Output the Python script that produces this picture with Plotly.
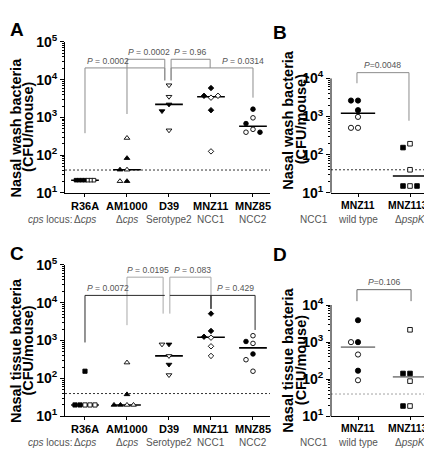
import numpy as np
import plotly.graph_objects as go

W, H = 432, 449
FONT = "Liberation Sans, Arial, sans-serif"

# ---------------- data ----------------
strains_AC = ["R36A", "AM1000", "D39", "MNZ11", "MNZ85"]
locus_AC = ["Δ<i>cps</i>", "Δ<i>cps</i>", "Serotype2", "NCC1", "NCC2"]
strains_BD = ["MNZ11", "MNZ1131"]
geno_BD = ["wild type", "Δ<i>pspK</i>"]
detection_limit = 40

# Panel A: nasal wash bacteria (CFU/mouse); fill 1 = closed symbol, 0 = open symbol
A_R36A = [21.5, 21.5, 21.5, 21.5, 21.5, 21.5, 21.5]
A_R36A_fill = [1, 1, 0, 1, 0, 1, 0]
A_AM1000 = [283, 82.6, 40.8, 40.8, 20.2, 20.2]
A_AM1000_fill = [0, 1, 0, 1, 1, 0]
A_D39 = [7130, 3530, 2210, 1470, 453]
A_D39_fill = [0, 0, 1, 1, 0]
A_MNZ11 = [5990, 3330, 3740, 3740, 1550, 125]
A_MNZ11_fill = [1, 0, 1, 0, 1, 0]
A_MNZ85 = [1650, 971, 683, 481, 403, 403]
A_MNZ85_fill = [1, 0, 1, 0, 0, 1]

# Panel B: nasal wash bacteria
B_MNZ11 = [2630, 2630, 1470, 979, 505, 505]
B_MNZ11_fill = [1, 1, 1, 0, 0, 0]
B_MNZ1131 = [193, 153, 40, 15, 15, 15]
B_MNZ1131_fill = [0, 1, 0, 0, 1, 1]

# Panel C: nasal tissue bacteria
C_R36A = [155, 20, 20, 20, 20, 20]
C_R36A_fill = [1, 0, 1, 0, 1, 0]
C_AM1000 = [262, 38, 20, 20, 20, 20]
C_AM1000_fill = [0, 1, 0, 1, 0, 1]
C_D39 = [792, 792, 393, 233, 123]
C_D39_fill = [1, 0, 0, 1, 0]
C_MNZ11 = [5120, 1190, 1790, 1260, 705, 393]
C_MNZ11_fill = [1, 0, 1, 1, 0, 0]
C_MNZ85 = [1340, 944, 840, 442, 312, 155]
C_MNZ85_fill = [0, 1, 0, 1, 0, 0]

# Panel D: nasal tissue bacteria
D_MNZ11 = [3890, 1000, 1000, 464, 170, 94]
D_MNZ11_fill = [1, 1, 0, 0, 1, 0]
D_MNZ1131 = [2150, 143, 143, 89, 19, 19]
D_MNZ1131_fill = [0, 1, 1, 0, 0, 1]

# significance brackets: (x_left, x_right, top, left_leg_end, right_leg_end)
A_brackets = [(0, 1.9, 20500, 380, 9570), (1, 1.9, 34800, 1228, 9570),
              (2.05, 2.98, 34800, 9570, 20500), (2.05, 4.0, 20500, 9570, 3330)]
A_pvals = ["0.0002", "0.0002", "0.96", "0.0314"]
A_plabel_x = [0, 0.98, 2.08, 3.21]
A_plabel_y = [20500, 34800, 34800, 20500]

C_brackets_light = [(1, 1.86, 46900, 2540, 5120), (2.02, 3.0, 46900, 5120, 15500)]
C_brackets_dark = [(0, 1.9, 15500, 889, 15500), (2.02, 4.05, 15500, 15500, 1900),
                   (3.0, 3.0, 15500, 6840, 6840)]
C_pvals = ["0.0072", "0.0195", "0.083", "0.429"]
C_plabel_x = [0, 0.95, 2.08, 3.1]
C_plabel_y = [15500, 46900, 46900, 15500]

B_bracket = (-0.02, 0.98, 14200, 7480, 776)
B_pval = "0.0048"
D_bracket = (-0.02, 1.02, 25900, 12700, 12700)
D_pval = "0.106"

# ---------------- layout geometry (pixels) ----------------
panels = {
    "A": dict(xa="x", ya="y", xdom=(57, 262), ydom=(182, 25), xr=(-0.476, 4.405), yr=(1, 5)),
    "B": dict(xa="x2", ya="y2", xdom=(323, 425), ydom=(182, 47.1), xr=(-0.519, 1.442), yr=(1, 4.4)),
    "C": dict(xa="x3", ya="y3", xdom=(57, 262), ydom=(415, 257), xr=(-0.476, 4.405), yr=(1, 5)),
    "D": dict(xa="x4", ya="y4", xdom=(323, 425), ydom=(415, 281.6), xr=(-0.519, 1.442), yr=(1, 4.45)),
}
for p in panels.values():
    p["ppx"] = (p["xdom"][1] - p["xdom"][0]) / (p["xr"][1] - p["xr"][0])
    p["ppd"] = (p["ydom"][0] - p["ydom"][1]) / (p["yr"][1] - p["yr"][0])


def swarm(vals, ppd, step):
    placed, offs = [], []
    cands = [0.0]
    for j in range(1, 15):
        cands += [-j * step, j * step]
    for v in vals:
        y = np.log10(v) * ppd
        for c in cands:
            if all((c - px) ** 2 + (y - py) ** 2 >= step ** 2 - 1e-6 for px, py in placed):
                break
        placed.append((c, y))
        offs.append(c)
    return offs


groups = [
    ("A", 0, A_R36A, A_R36A_fill, "square", 3.6, 3.0),
    ("A", 1, A_AM1000, A_AM1000_fill, "triangle-up", 5, 7),
    ("A", 2, A_D39, A_D39_fill, "triangle-down", 5, 7),
    ("A", 3, A_MNZ11, A_MNZ11_fill, "diamond", 4.2, 7),
    ("A", 4, A_MNZ85, A_MNZ85_fill, "circle", 4.6, 7),
    ("B", 0, B_MNZ11, B_MNZ11_fill, "circle", 5.2, 7),
    ("B", 1, B_MNZ1131, B_MNZ1131_fill, "square", 4.6, 7),
    ("C", 0, C_R36A, C_R36A_fill, "square", 4.2, 5),
    ("C", 1, C_AM1000, C_AM1000_fill, "triangle-up", 5, 6.5),
    ("C", 2, C_D39, C_D39_fill, "triangle-down", 5, 7),
    ("C", 3, C_MNZ11, C_MNZ11_fill, "diamond", 4.2, 7),
    ("C", 4, C_MNZ85, C_MNZ85_fill, "circle", 4.6, 7),
    ("D", 0, D_MNZ11, D_MNZ11_fill, "circle", 5.2, 7),
    ("D", 1, D_MNZ1131, D_MNZ1131_fill, "square", 4.6, 7),
]

fig = go.Figure()
line_col = {"A": "black", "B": "black", "C": "black", "D": "#8a8a8a"}

# detection limit lines
for key, p in panels.items():
    fig.add_trace(go.Scatter(x=list(p["xr"]), y=[detection_limit, detection_limit], mode="lines",
                             xaxis=p["xa"], yaxis=p["ya"], showlegend=False, hoverinfo="skip",
                             line=dict(color=line_col[key], width=0.8, dash="2px,2px")))

# medians then points
for key, i, vals, fill, sym, size, step in groups:
    p = panels[key]
    med = float(np.median(vals))
    fig.add_trace(go.Scatter(x=[i - 0.33, i + 0.33], y=[med, med], mode="lines",
                             xaxis=p["xa"], yaxis=p["ya"], showlegend=False, hoverinfo="skip",
                             line=dict(color=line_col[key], width=1.6)))
for key, i, vals, fill, sym, size, step in groups:
    p = panels[key]
    offs = swarm(vals, p["ppd"], step)
    xs = [i + o / p["ppx"] for o in offs]
    fig.add_trace(go.Scatter(x=xs, y=vals, mode="markers", xaxis=p["xa"], yaxis=p["ya"],
                             showlegend=False, hoverinfo="skip", cliponaxis=False,
                             marker=dict(symbol=sym, size=size,
                                         color=["black" if f else "white" for f in fill],
                                         line=dict(color="black", width=0.9))))


def add_bracket(key, br, color, width=1):
    p = panels[key]
    xl, xr, top, lb, rb = br
    fig.add_trace(go.Scatter(x=[xl, xl, xr, xr], y=[lb, top, top, rb], mode="lines",
                             xaxis=p["xa"], yaxis=p["ya"], showlegend=False, hoverinfo="skip",
                             line=dict(color=color, width=width)))


for br in A_brackets:
    add_bracket("A", br, "#8c8c8c")
for br in C_brackets_light:
    add_bracket("C", br, "#a8a8a8")
for br in C_brackets_dark:
    add_bracket("C", br, "#2a2a2a")
add_bracket("B", B_bracket, "#8c8c8c")
add_bracket("D", D_bracket, "#6a6a6a")

annotations = []
pfont = dict(family=FONT, size=8.6, color="#555555")
for txt, xx, yy in zip(A_pvals, A_plabel_x, A_plabel_y):
    annotations.append(dict(text="<i>P</i> = " + txt, x=xx, y=np.log10(yy), xref="x", yref="y",
                            xanchor="left", yanchor="bottom", yshift=0, showarrow=False, font=pfont))
for txt, xx, yy in zip(C_pvals, C_plabel_x, C_plabel_y):
    annotations.append(dict(text="<i>P</i> = " + txt, x=xx, y=np.log10(yy), xref="x3", yref="y3",
                            xanchor="left", yanchor="bottom", yshift=0, showarrow=False, font=pfont))
annotations.append(dict(text="<i>P</i>=" + B_pval, x=(B_bracket[0] + B_bracket[1]) / 2,
                        y=np.log10(B_bracket[2]), xref="x2", yref="y2", xanchor="center",
                        yanchor="bottom", yshift=1, showarrow=False, font=pfont))
annotations.append(dict(text="<i>P</i>=" + D_pval, x=(D_bracket[0] + D_bracket[1]) / 2,
                        y=np.log10(D_bracket[2]), xref="x4", yref="y4", xanchor="center",
                        yanchor="bottom", yshift=1, showarrow=False, font=pfont))

# category labels
sfont = dict(family=FONT, size=10, color="#555555")
for key, names, subs, csize in (("A", strains_AC, locus_AC, 11), ("C", strains_AC, locus_AC, 11),
                                ("B", strains_BD, geno_BD, 10.4), ("D", strains_BD, geno_BD, 10.4)):
    p = panels[key]
    for i, (n, s) in enumerate(zip(names, subs)):
        annotations.append(dict(text="<b>" + n + "</b>", x=i, y=0, xref=p["xa"],
                                yref=p["ya"] + " domain", xanchor="center", yanchor="top",
                                yshift=-5, showarrow=False,
                                font=dict(family=FONT, size=csize, color="black")))
        annotations.append(dict(text=s, x=i, y=0, xref=p["xa"], yref=p["ya"] + " domain",
                                xanchor="center", yanchor="top", yshift=-19, showarrow=False,
                                font=sfont))
for key in ("A", "C"):
    p = panels[key]
    annotations.append(dict(text="<i>cps</i> locus:", x=0, y=0, xref=p["xa"],
                            yref=p["ya"] + " domain", xanchor="right", yanchor="top",
                            xshift=-11, yshift=-19, showarrow=False, font=sfont))
for key in ("B", "D"):
    p = panels[key]
    annotations.append(dict(text="NCC1", x=0, y=0, xref=p["xa"] + " domain",
                            yref=p["ya"] + " domain", xanchor="right", yanchor="top",
                            xshift=-1, yshift=-19, showarrow=False, font=sfont))

# y-axis titles
tfont = dict(family=FONT, size=14.5, color="black")
for l1, cx, cy in (("Nasal wash bacteria", 8, 114), ("Nasal wash bacteria", 280, 106),
                   ("Nasal tissue bacteria", 8, 347), ("Nasal tissue bacteria", 280, 357)):
    annotations.append(dict(text="<b>" + l1 + "</b>", x=cx / W, y=1 - cy / H, xref="paper",
                            yref="paper", textangle=-90, xanchor="center", yanchor="middle",
                            showarrow=False, font=tfont))
    annotations.append(dict(text="<b>(CFU/mouse)</b>", x=(cx + 12.5) / W, y=1 - cy / H,
                            xref="paper", yref="paper", textangle=-90, xanchor="center",
                            yanchor="middle", showarrow=False, font=tfont))

# panel letters
for letter, cx, cy in (("A", 9, 12), ("B", 272, 15), ("C", 9, 245), ("D", 272, 246)):
    annotations.append(dict(text="<b>" + letter + "</b>", x=cx / W, y=1 - cy / H, xref="paper",
                            yref="paper", xanchor="center", yanchor="middle", showarrow=False,
                            font=dict(family=FONT, size=19, color="black")))

# B/D y-axis lines stop at 10^4
shapes = []
for key in ("B", "D"):
    p = panels[key]
    top_px = p["ydom"][0] - (4 - p["yr"][0]) * p["ppd"]
    shapes.append(dict(type="line", xref="paper", yref="paper", x0=p["xdom"][0] / W,
                       x1=p["xdom"][0] / W, y0=1 - p["ydom"][0] / H, y1=1 - top_px / H,
                       line=dict(color="black", width=1)))

layout = dict(width=W, height=H, margin=dict(l=0, r=0, t=0, b=0), autosize=False,
              paper_bgcolor="white", plot_bgcolor="white", showlegend=False,
              annotations=annotations, shapes=shapes)

for key, p in panels.items():
    xn = "xaxis" + p["xa"][1:]
    yn = "yaxis" + p["ya"][1:]
    ncat = 5 if key in ("A", "C") else 2
    layout[xn] = dict(domain=[p["xdom"][0] / W, p["xdom"][1] / W], range=list(p["xr"]),
                      anchor=p["ya"], showline=True, linecolor="black", linewidth=1,
                      ticks="outside", ticklen=3, tickcolor="black", tickvals=list(range(ncat)),
                      showticklabels=False, showgrid=False, zeroline=False, fixedrange=True)
    top_e = 5 if key in ("A", "C") else 4
    tv = [10 ** e for e in range(1, top_e + 1)]
    tt = ["<b>10<sup>%d</sup></b>" % e for e in range(1, top_e + 1)]
    minor_vals = [k * 10 ** e for e in range(1, top_e) for k in range(2, 10)]
    layout[yn] = dict(domain=[1 - p["ydom"][0] / H, 1 - p["ydom"][1] / H], range=list(p["yr"]),
                      type="log", anchor=p["xa"], showline=key in ("A", "C"), linecolor="black",
                      linewidth=1, ticks="outside", ticklen=4, tickcolor="black",
                      tickvals=tv, ticktext=tt,
                      tickfont=dict(family=FONT, size=14, color="black"),
                      minor=dict(tickvals=minor_vals, ticks="outside", ticklen=2,
                                 tickcolor="black", showgrid=False),
                      showgrid=False, zeroline=False, fixedrange=True)

fig.update_layout(**layout)
fig.write_html("out.html")
